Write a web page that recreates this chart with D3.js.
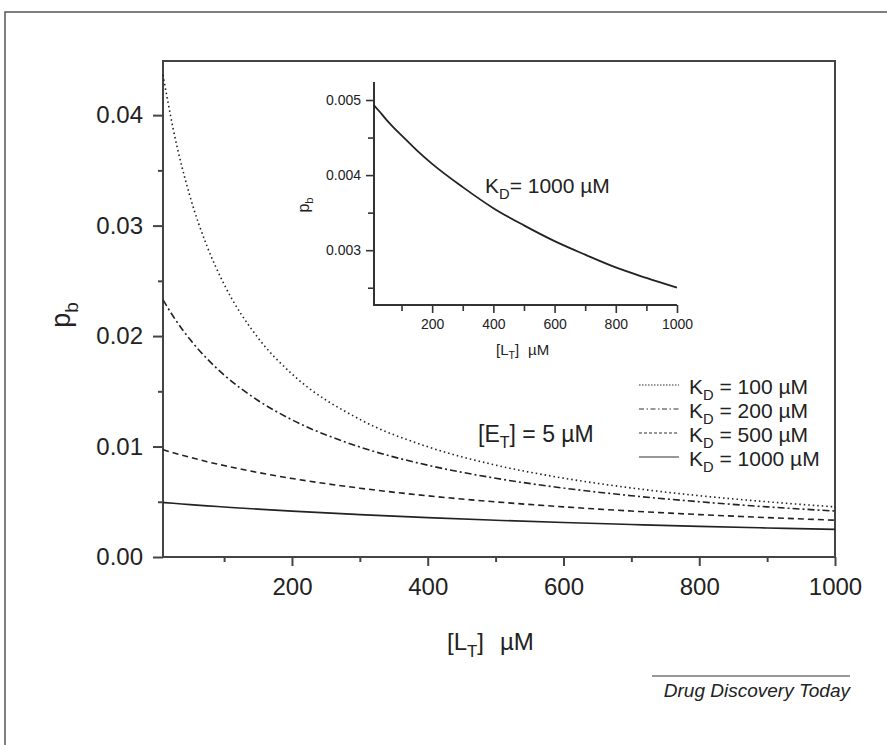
<!DOCTYPE html>
<html>
<head>
<meta charset="utf-8">
<script src="https://cdn.jsdelivr.net/npm/d3@7"></script>
<style>
  body { margin: 0; background: #fff; }
  svg { font-family: "Liberation Sans", Arial, Helvetica, sans-serif; }
  .axis text { fill: #222; }
</style>
</head>
<body>
<svg id="chart" width="887" height="745"></svg>
<script>
// [L_T] in uM
const lt = [10, 25, 50, 75, 100, 150, 200, 300, 400, 500, 600, 700, 800, 900, 1000];
// p_b, one per K_D
const kd100 = [0.04364, 0.03875, 0.03260, 0.02811, 0.02469, 0.01984, 0.01657, 0.01246, 0.00998, 0.00832, 0.00714, 0.00625, 0.00555, 0.00500, 0.00454];
const kd200 = [0.02328, 0.02179, 0.01968, 0.01794, 0.01648, 0.01417, 0.01242, 0.00996, 0.00831, 0.00713, 0.00624, 0.00555, 0.00500, 0.00454, 0.00416];
const kd500 = [0.00971, 0.00944, 0.00902, 0.00863, 0.00828, 0.00765, 0.00711, 0.00623, 0.00554, 0.00499, 0.00454, 0.00416, 0.00384, 0.00357, 0.00333];
const kd1000 = [0.00493, 0.00486, 0.00474, 0.00463, 0.00453, 0.00433, 0.00415, 0.00384, 0.00356, 0.00333, 0.00312, 0.00294, 0.00277, 0.00263, 0.00250];

const seriesNames = ['100', '200', '500', '1000'];
const seriesValues = [kd100, kd200, kd500, kd1000];
const dashes = ['1.5,3', '7,3,2,3', '6,4', null];

const yTicks = [0, 0.01, 0.02, 0.03, 0.04];
const yMinor = [0.005, 0.015, 0.025, 0.035];
const xTicks = [200, 400, 600, 800, 1000];
const xMinor = [100, 300, 500, 700, 900];
const insetYTicks = [0.003, 0.004, 0.005];
const insetYMinor = [0.0025, 0.0035, 0.0045];

const svg = d3.select('svg#chart');
const ink = '#222';

// outer frame (runs off the right and bottom)
svg.append('rect')
  .attr('x', 5).attr('y', 12).attr('width', 1000).attr('height', 1000)
  .attr('fill', 'none').attr('stroke', '#555').attr('stroke-width', 1.5);

// helper: text with subscript pieces, [string, isSub, dx]
const richText = (g, x, y, parts, size, opts = {}) => {
  const t = g.append('text')
    .attr('x', x).attr('y', y)
    .attr('font-size', size)
    .attr('fill', ink)
    .attr('text-anchor', opts.anchor || 'start');
  if (opts.transform) t.attr('transform', opts.transform);
  let wasSub = false;
  parts.forEach(([s, sub, dx]) => {
    const sp = t.append('tspan').text(s);
    if (sub) sp.attr('font-size', size * 0.7).attr('dy', size * 0.28);
    else if (wasSub) sp.attr('dy', -size * 0.28);
    if (dx) sp.attr('dx', dx);
    wasSub = sub;
  });
  return t;
};

// ---------- main plot ----------
const x = d3.scaleLinear().domain([10, 1000]).range([163, 835]);
const y = d3.scaleLinear().domain([0, 0.0449]).range([557, 61]);

const main = svg.append('g');

main.append('rect')
  .attr('x', x.range()[0]).attr('y', y.range()[1])
  .attr('width', x.range()[1] - x.range()[0])
  .attr('height', y.range()[0] - y.range()[1])
  .attr('fill', 'none').attr('stroke', '#444').attr('stroke-width', 2);

main.append('g').attr('class', 'axis')
  .attr('transform', `translate(${x.range()[0]},0)`)
  .call(d3.axisLeft(y).tickValues(yTicks).tickFormat(d3.format('.2f')).tickSize(10).tickPadding(10));
main.append('g').attr('transform', `translate(${x.range()[0]},0)`)
  .call(d3.axisLeft(y).tickValues(yMinor).tickFormat('').tickSize(5));

main.append('g').attr('class', 'axis')
  .attr('transform', `translate(0,${y.range()[0]})`)
  .call(d3.axisBottom(x).tickValues(xTicks).tickFormat(d3.format('d')).tickSize(9).tickPadding(12));
main.append('g').attr('transform', `translate(0,${y.range()[0]})`)
  .call(d3.axisBottom(x).tickValues(xMinor).tickFormat('').tickSize(5));

main.selectAll('.domain').remove();
main.selectAll('.tick line').attr('stroke', '#444').attr('stroke-width', 2);
main.selectAll('.axis text').attr('font-size', 24).attr('font-family', null);

const line = d3.line()
  .x((d, i) => x(lt[i]))
  .y(d => y(d))
  .curve(d3.curveMonotoneX);

main.selectAll('path.curve').data(seriesValues)
  .enter().append('path')
    .attr('class', 'curve')
    .attr('d', line)
    .attr('fill', 'none')
    .attr('stroke', ink)
    .attr('stroke-width', 1.6)
    .attr('stroke-dasharray', (d, i) => dashes[i]);

// axis titles
richText(svg, 70, 315, [['p', false], ['b', true]], 27, { anchor: 'middle', transform: 'rotate(-90,70,315)' });
richText(svg, 447, 650, [['[L', false], ['T', true], [']', false], ['\u00b5M', false, 16]], 24);

// legend
const legend = svg.append('g');
seriesNames.forEach((n, i) => {
  const cy = 387 + i * 24;
  legend.append('line')
    .attr('x1', 639).attr('x2', 679).attr('y1', cy - 2).attr('y2', cy - 2)
    .attr('stroke', '#333').attr('stroke-width', 1.2)
    .attr('stroke-dasharray', i === 0 ? '1.5,1.5' : i === 1 ? '5,2.5,1.5,2.5' : i === 2 ? '3,2' : null);
  richText(legend, 689, cy + 7, [['K', false], ['D', true], [` = ${n} \u00b5M`, false]], 21);
});

richText(svg, 478, 442, [['[E', false], ['T', true], ['] = 5 \u00b5M', false]], 23);

// ---------- inset ----------
const xi = d3.scaleLinear().domain([10, 1000]).range([374, 677]);
const yi = d3.scaleLinear().domain([0.00227, 0.00524]).range([305, 82]);
const inset = svg.append('g');

inset.append('g').attr('class', 'axis')
  .attr('transform', `translate(${xi.range()[0]},0)`)
  .call(d3.axisLeft(yi).tickValues(insetYTicks).tickFormat(d3.format('.3f')).tickSize(8).tickPadding(5));
inset.append('g').attr('transform', `translate(${xi.range()[0]},0)`)
  .call(d3.axisLeft(yi).tickValues(insetYMinor).tickFormat('').tickSize(6));
inset.append('g').attr('class', 'axis')
  .attr('transform', `translate(0,${yi.range()[0]})`)
  .call(d3.axisBottom(xi).tickValues(xTicks).tickFormat(d3.format('d')).tickSize(8).tickPadding(6));
inset.append('g').attr('transform', `translate(0,${yi.range()[0]})`)
  .call(d3.axisBottom(xi).tickValues(xMinor).tickFormat('').tickSize(6));

inset.selectAll('.domain').remove();
inset.selectAll('.tick line').attr('stroke', '#333').attr('stroke-width', 1.6);
inset.selectAll('.axis text').attr('font-size', 14).attr('font-family', null);

inset.append('path')
  .attr('d', `M${xi.range()[0]},${yi.range()[1]}V${yi.range()[0]}H${xi.range()[1]}`)
  .attr('fill', 'none').attr('stroke', '#333').attr('stroke-width', 2);

inset.append('path')
  .datum(kd1000)
  .attr('d', d3.line().x((d, i) => xi(lt[i])).y(d => yi(d)).curve(d3.curveMonotoneX))
  .attr('fill', 'none').attr('stroke', ink).attr('stroke-width', 1.8);

richText(inset, 485, 193, [['K', false], ['D', true], ['= 1000 \u00b5M', false]], 21);
richText(inset, 309, 205, [['p', false], ['b', true]], 16, { anchor: 'middle', transform: 'rotate(-90,309,205)' });
richText(inset, 496, 355, [['[L', false], ['T', true], [']', false], ['\u00b5M', false, 9]], 15);

// credit
svg.append('line')
  .attr('x1', 652).attr('x2', 850).attr('y1', 676).attr('y2', 676)
  .attr('stroke', '#333').attr('stroke-width', 1);
svg.append('text')
  .attr('x', 850).attr('y', 697)
  .attr('text-anchor', 'end')
  .attr('font-size', 19).attr('font-style', 'italic')
  .attr('fill', ink)
  .text('Drug Discovery Today');
</script>
</body>
</html>
